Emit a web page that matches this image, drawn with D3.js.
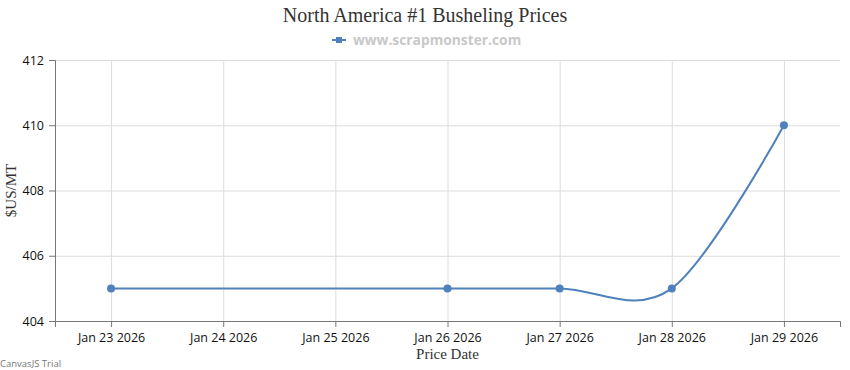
<!DOCTYPE html>
<html lang="en">
<head>
  <meta charset="UTF-8">
  <title>North America #1 Busheling Prices</title>
  <style>
    body { margin: 0; background: #fff; }
    svg  { display: block; }
    .grid line { stroke: #dcdcdc; stroke-width: 1px; }
    .grid path { display: none; }
    .axis path, .axis line { stroke: #777; }
    .axis text { font-family: "Open Sans", sans-serif; font-size: 12.5px; fill: #111; }
  </style>
</head>
<body>
  <svg id="chart" width="850" height="370"></svg>

  <script src="https://d3js.org/d3.v7.min.js"></script>
  <script>
    /* ---------- data ---------- */
    const dates  = ['2026-01-23', '2026-01-26', '2026-01-27', '2026-01-28', '2026-01-29'];
    const prices = [405, 405, 405, 405, 410];
    const yTicks = [404, 406, 408, 410, 412];
    const xTickDates = ['2026-01-23', '2026-01-24', '2026-01-25', '2026-01-26',
                        '2026-01-27', '2026-01-28', '2026-01-29'];

    const parse = d3.timeParse('%Y-%m-%d');
    const data = dates.map((d, i) => ({ date: parse(d), price: prices[i] }));
    const xTicks = xTickDates.map(parse);

    /* ---------- layout ---------- */
    const plotL = 55, plotR = 840, plotT = 60, plotB = 321;
    const color = '#4f81bc';

    const x = d3.scaleTime()
      .domain([d3.timeHour.offset(xTicks[0], -12), d3.timeHour.offset(xTicks[xTicks.length - 1], 12)])
      .range([plotL, plotR]);

    const y = d3.scaleLinear()
      .domain([404, 412])
      .range([plotB, plotT]);

    const svg = d3.select('#chart');

    // gridlines
    svg.append('g')
      .attr('class', 'grid')
      .attr('transform', `translate(0,${plotB})`)
      .call(d3.axisBottom(x).tickValues(xTicks).tickSize(-(plotB - plotT)).tickFormat(''));
    svg.append('g')
      .attr('class', 'grid')
      .attr('transform', `translate(${plotL},0)`)
      .call(d3.axisLeft(y).tickValues(yTicks).tickSize(-(plotR - plotL)).tickFormat(''));

    // axes
    svg.append('g')
      .attr('class', 'axis')
      .attr('transform', `translate(0,${plotB})`)
      .call(d3.axisBottom(x).tickValues(xTicks).tickSizeOuter(0).tickSize(6).tickPadding(6)
        .tickFormat(d3.timeFormat('%b %d %Y')));
    svg.append('g')
      .attr('class', 'axis')
      .attr('transform', `translate(${plotL},0)`)
      .call(d3.axisLeft(y).tickValues(yTicks).tickSizeOuter(0).tickSize(6).tickPadding(5));

    // line (cardinal spline like the original)
    const line = d3.line()
      .x(d => x(d.date))
      .y(d => y(d.price))
      .curve(d3.curveCardinal.tension(0));

    svg.append('path')
      .datum(data)
      .attr('fill', 'none')
      .attr('stroke', color)
      .attr('stroke-width', 2)
      .attr('d', line);

    svg.selectAll('circle.pt')
      .data(data)
      .enter().append('circle')
      .attr('class', 'pt')
      .attr('cx', d => x(d.date))
      .attr('cy', d => y(d.price))
      .attr('r', 4)
      .attr('fill', color);

    // titles
    svg.append('text')
      .attr('x', 425).attr('y', 22)
      .attr('text-anchor', 'middle')
      .style('font-family', '"Liberation Serif", serif')
      .style('font-size', '20px')
      .style('fill', '#333')
      .text('North America #1 Busheling Prices');

    // legend
    const lg = svg.append('g').attr('transform', 'translate(332,40)');
    lg.append('line').attr('x1', 0).attr('x2', 14).attr('y1', 0).attr('y2', 0)
      .attr('stroke', color).attr('stroke-width', 2);
    lg.append('rect').attr('x', 4).attr('y', -3).attr('width', 6).attr('height', 6).attr('fill', color);
    lg.append('text')
      .attr('x', 21).attr('y', 5)
      .style('font-family', '"Open Sans", sans-serif')
      .style('font-size', '13.8px')
      .style('font-weight', 'bold')
      .style('fill', '#c8c8c8')
      .text('www.scrapmonster.com');

    svg.append('text')
      .attr('transform', `translate(16,${(plotT + plotB) / 2}) rotate(-90)`)
      .attr('text-anchor', 'middle')
      .style('font-family', '"Liberation Serif", serif')
      .style('font-size', '15px')
      .style('fill', '#333')
      .text('$US/MT');

    svg.append('text')
      .attr('x', (plotL + plotR) / 2).attr('y', 359)
      .attr('text-anchor', 'middle')
      .style('font-family', '"Liberation Serif", serif')
      .style('font-size', '15px')
      .style('fill', '#333')
      .text('Price Date');

    svg.append('text')
      .attr('x', 0).attr('y', 367)
      .style('font-family', '"Open Sans", sans-serif')
      .style('font-size', '9.5px')
      .style('fill', '#777')
      .text('CanvasJS Trial');
  </script>
</body>
</html>
